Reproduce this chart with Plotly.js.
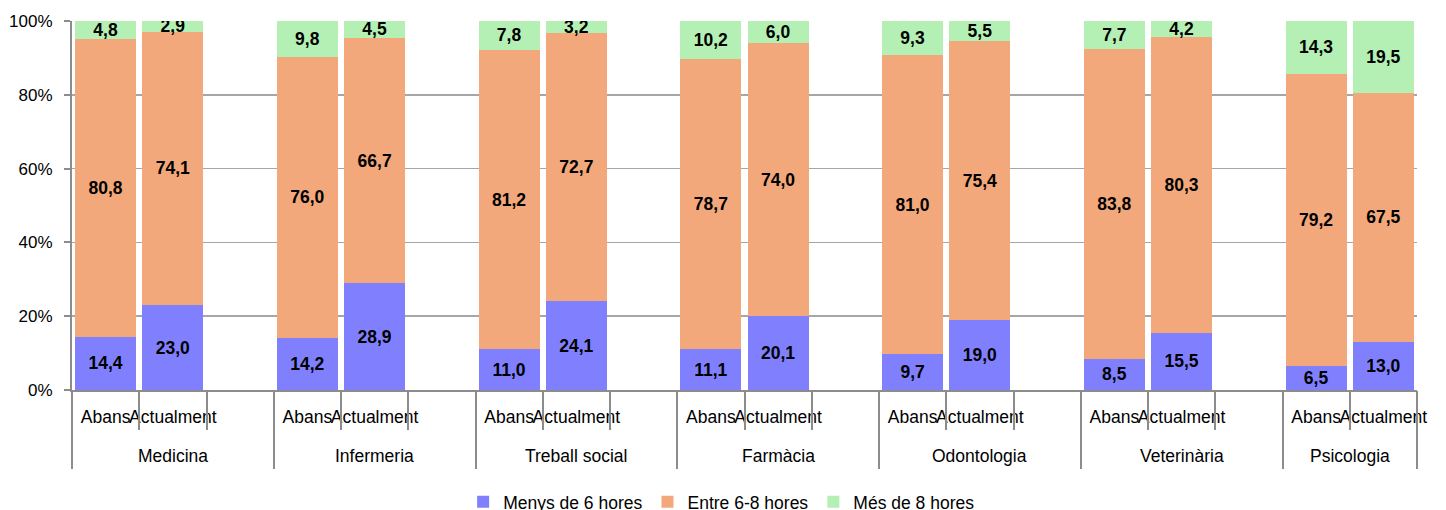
<!DOCTYPE html>
<html>
<head>
<meta charset="utf-8">
<script src="https://cdn.plot.ly/plotly-3.0.1.min.js"></script>
<style>html,body{margin:0;padding:0;background:#fff;}#chart{width:1446px;height:510px;}</style>
</head>
<body>
<div id="chart"></div>
<script>
const groups = ['Medicina','Infermeria','Treball social','Farmàcia','Odontologia','Veterinària','Psicologia'];
const periods = ['Abans','Actualment'];
const seriesNames = ['Menys de 6 hores','Entre 6-8 hores','Més de 8 hores'];
const menys = [14.4,23.0,14.2,28.9,11.0,24.1,11.1,20.1,9.7,19.0,8.5,15.5,6.5,13.0];
const entre = [80.8,74.1,76.0,66.7,81.2,72.7,78.7,74.0,81.0,75.4,83.8,80.3,79.2,67.5];
const mes   = [4.8,2.9,9.8,4.5,7.8,3.2,10.2,6.0,9.3,5.5,7.7,4.2,14.3,19.5];
const yTicks = [0,20,40,60,80,100];

const FONT = '"Liberation Sans", Arial, sans-serif';
const FS = 17.5;
const colors = ['#8080FF','#F2A87B','#B4F0B4'];
const gray = '#8C8C8C';

// slot layout: each group uses 3 slots (last group only 2)
const xs = [], xLabels = [];
groups.forEach((g, gi) => periods.forEach((p, pi) => { xs.push(gi*3 + pi); xLabels.push(p); }));
const nSlots = groups.length*3 - 1;
const groupBounds = [], innerBounds = [];
groups.forEach((g, gi) => {
  groupBounds.push(gi*3 - 0.5);
  innerBounds.push(gi*3 + 0.5);
  if (gi < groups.length - 1) innerBounds.push(gi*3 + 1.5);
});
groupBounds.push(nSlots - 0.5);

const fmt = v => v.toFixed(1).replace('.', ',');
const traces = [menys, entre, mes].map((vals, i) => ({
  type: 'bar', x: xs, y: vals, name: seriesNames[i],
  marker: {color: colors[i], line: {width: 0}},
  text: vals.map(fmt), textposition: 'inside', insidetextanchor: 'middle',
  textangle: 0, constraintext: 'none',
  textfont: {family: FONT, size: FS, color: '#000', weight: 'bold'},
  hoverinfo: 'skip'
}));

const annotations = groups.map((g, gi) => {
  const first = gi*3 - 0.5;
  const last = (gi < groups.length - 1) ? gi*3 + 2.5 : nSlots - 0.5;
  return {text: g, x: (first + last)/2, xref: 'x', y: -0.179, yref: 'paper',
          yanchor: 'middle', xanchor: 'center', showarrow: false,
          font: {family: FONT, size: FS, color: '#000'}};
});

const layout = {
  width: 1446, height: 510,
  margin: {l: 72, r: 29, t: 21, b: 120, autoexpand: false},
  paper_bgcolor: '#fff', plot_bgcolor: '#fff',
  barmode: 'stack', barnorm: 'percent', bargap: 0.09,
  uniformtext: {mode: 'show', minsize: FS},
  showlegend: true,
  legend: {orientation: 'h', x: 0.483, xanchor: 'center', xref: 'paper',
           yref: 'paper', y: -0.3035, yanchor: 'middle',
           font: {family: FONT, size: FS, color: '#000'}, traceorder: 'normal'},
  xaxis: {range: [-0.5, nSlots - 0.5], tickmode: 'array', tickvals: xs, ticktext: xLabels,
          ticks: '', tickangle: 0, showgrid: false, zeroline: false, showline: true, linecolor: gray, linewidth: 2,
          tickfont: {family: FONT, size: FS, color: '#000'}, ticklabelstandoff: 10, automargin: false},
  xaxis2: {overlaying: 'x', matches: 'x', anchor: 'y', side: 'bottom', range: [-0.5, nSlots - 0.5],
           tickmode: 'array', tickvals: innerBounds, ticks: 'outside', ticklen: 39, tickwidth: 2,
           tickcolor: gray, showticklabels: false, showgrid: false, zeroline: false, showline: false},
  xaxis3: {overlaying: 'x', matches: 'x', anchor: 'y', side: 'bottom', range: [-0.5, nSlots - 0.5],
           tickmode: 'array', tickvals: groupBounds, ticks: 'outside', ticklen: 78, tickwidth: 2,
           tickcolor: gray, showticklabels: false, showgrid: false, zeroline: false, showline: false},
  yaxis: {range: [0, 100], tickmode: 'array', tickvals: yTicks, ticktext: yTicks.map(v => v + '%'),
          ticks: 'outside', ticklen: 6, tickwidth: 2, tickcolor: gray,
          showgrid: true, gridcolor: '#A6A6A6', gridwidth: 1.5, zeroline: false,
          showline: true, linecolor: gray, linewidth: 2,
          tickfont: {family: FONT, size: 17, color: '#000'}, ticklabelstandoff: 8, automargin: false},
  annotations: annotations
};
// invisible traces to anchor the overlay axes
traces.push({type: 'scatter', x: [0], y: [null], xaxis: 'x2', showlegend: false, hoverinfo: 'skip'});
traces.push({type: 'scatter', x: [0], y: [null], xaxis: 'x3', showlegend: false, hoverinfo: 'skip'});

Plotly.newPlot('chart', traces, layout, {displayModeBar: false, staticPlot: true});
</script>
</body>
</html>
